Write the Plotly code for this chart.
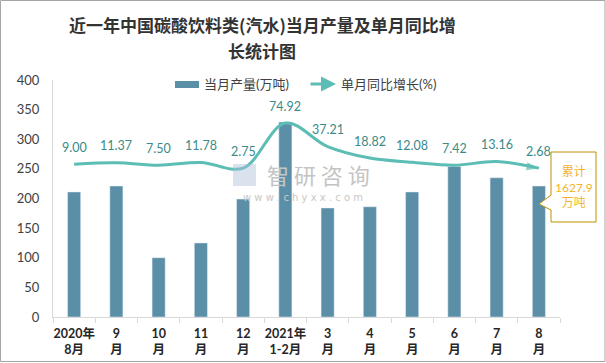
import plotly.graph_objects as go

# ---- data ----
categories = ["2020年<br>8月", "9<br>月", "10<br>月", "11<br>月", "12<br>月", "2021年<br>1-2月",
              "3<br>月", "4<br>月", "5<br>月", "6<br>月", "7<br>月", "8<br>月"]
production = [211, 221, 100, 125, 199, 329, 184, 186, 211, 254, 235, 221]
growth = [9.00, 11.37, 7.50, 11.78, 2.75, 74.92, 37.21, 18.82, 12.08, 7.42, 13.16, 2.68]
cumulative_text = "累计<br>1627.9<br>万吨"
title_line1 = "近一年中国碳酸饮料类(汽水)当月产量及单月同比增"
title_line2 = "长统计图"
bar_name = "当月产量(万吨)"
line_name = "单月同比增长(%)"

W, H = 606, 363
ML, MR, MT, MB = 53, 46, 80, 46
PW, PH = W - ML - MR, H - MT - MB

def px(x):
    return (x - ML) / PW

def py(y):
    return (H - MB - y) / PH

BAR_C = "#5B8FA7"
LINE_C = "#5BBDB4"
LABEL_C = "#3A8A8A"
FONT = "Lato, Noto Sans CJK SC, sans-serif"

fig = go.Figure()
fig.add_trace(go.Bar(x=categories, y=production, width=0.31, marker_color=BAR_C,
                     name=bar_name, showlegend=False, hoverinfo="skip"))

n = len(growth)
sym = ["circle"] + ["circle"] * (n - 2) + ["arrow"]
size = [11] + [0] * (n - 2) + [13]
mcol = ["#F5B921"] + [LINE_C] * (n - 1)
fig.add_trace(go.Scatter(x=categories, y=growth, yaxis="y2", mode="lines+markers",
                         line=dict(color=LINE_C, width=3, shape="spline", smoothing=1.0),
                         marker=dict(symbol=sym, size=size, color=mcol, angleref="previous",
                                     line=dict(width=0)),
                         name=line_name, showlegend=False, hoverinfo="skip"))

annotations = []
for c, g in zip(categories, growth):
    annotations.append(dict(x=c, y=g, xref="x", yref="y2", text=f"{g:.2f}", showarrow=False,
                            yshift=17, font=dict(family=FONT, size=12.5, color=LABEL_C)))

# title (two lines)
for txt, yy in ((title_line1, 25), (title_line2, 50)):
    annotations.append(dict(x=px(262), y=py(yy), xref="paper", yref="paper", text=txt,
                            showarrow=False, xanchor="center", yanchor="middle",
                            font=dict(family="Noto Sans CJK SC", size=17, color="#333333", weight="bold")))

# custom legend
annotations.append(dict(x=px(202), y=py(84), xref="paper", yref="paper", text=bar_name,
                        showarrow=False, xanchor="left", yanchor="middle",
                        font=dict(family=FONT, size=13, color="#404040")))
annotations.append(dict(x=px(339), y=py(84), xref="paper", yref="paper", text=line_name,
                        showarrow=False, xanchor="left", yanchor="middle",
                        font=dict(family=FONT, size=13, color="#404040")))
annotations.append(dict(x=px(336), y=py(84), ax=-27, ay=0, xref="paper", yref="paper",
                        axref="pixel", ayref="pixel", text="", showarrow=True, arrowhead=2,
                        arrowsize=1, arrowwidth=3, arrowcolor=LINE_C))

# watermark
annotations.append(dict(x=px(318), y=py(174), xref="paper", yref="paper", text="智 研 咨 询",
                        showarrow=False, font=dict(family="Noto Sans CJK SC", size=22, color="#C4C4C4")))
annotations.append(dict(x=px(303), y=py(197), xref="paper", yref="paper", text="w w w . c h y x x . c o m",
                        showarrow=False, font=dict(family="DejaVu Sans", size=10, color="#C8C8C8")))

# callout text
annotations.append(dict(x=px(573.5), y=py(187), xref="paper", yref="paper", text=cumulative_text,
                        showarrow=False, xanchor="center", yanchor="middle",
                        font=dict(family=FONT, size=12, color="#F4B32A")))

shapes = [
    dict(type="rect", xref="paper", yref="paper", x0=px(175), x1=px(199), y0=py(81), y1=py(88),
         fillcolor=BAR_C, line=dict(width=0)),
    dict(type="path", xref="paper", yref="paper", layer="above",
         path=(f"M {px(551)},{py(152)} L {px(596)},{py(152)} L {px(596)},{py(222)} "
               f"L {px(551)},{py(222)} L {px(551)},{py(210)} L {px(539)},{py(204)} "
               f"L {px(551)},{py(195)} Z"),
         fillcolor="white", line=dict(color="#BF9000", width=1)),
    dict(type="rect", xref="paper", yref="paper", x0=px(233), x1=px(256), y0=py(164), y1=py(186),
         fillcolor="rgba(170,190,215,0.45)", line=dict(width=0), layer="above"),
    dict(type="rect", xref="paper", yref="paper", x0=px(0.5), x1=px(605), y0=py(0.5), y1=py(361.5),
         line=dict(color="#A6A6A6", width=1), fillcolor="rgba(0,0,0,0)"),
]

fig.update_layout(
    width=W, height=H, margin=dict(l=ML, r=MR, t=MT, b=MB, autoexpand=False),
    paper_bgcolor="white", plot_bgcolor="white",
    font=dict(family=FONT, color="#404040"),
    showlegend=False,
    xaxis=dict(type="category", range=[-0.5, 11.5], showline=True, linecolor="#D9D9D9",
               ticks="outside", tickson="boundaries", ticklen=5, tickcolor="#D9D9D9",
               tickangle=0, automargin=False, ticklabelstandoff=5,
               showgrid=False, tickfont=dict(family=FONT, size=12.5, color="#262626", weight="bold")),
    yaxis=dict(range=[0, 400], dtick=50, showline=True, linecolor="#D9D9D9", showgrid=False,
               zeroline=False, ticks="", ticklabelstandoff=10, automargin=False,
               tickfont=dict(family=FONT, size=13, color="#404040")),
    yaxis2=dict(overlaying="y", range=[-236, 144], visible=False),
    annotations=annotations, shapes=shapes,
)

fig.write_html("out.html", config={"displayModeBar": False},
               post_script="document.body.style.margin='0px';")
